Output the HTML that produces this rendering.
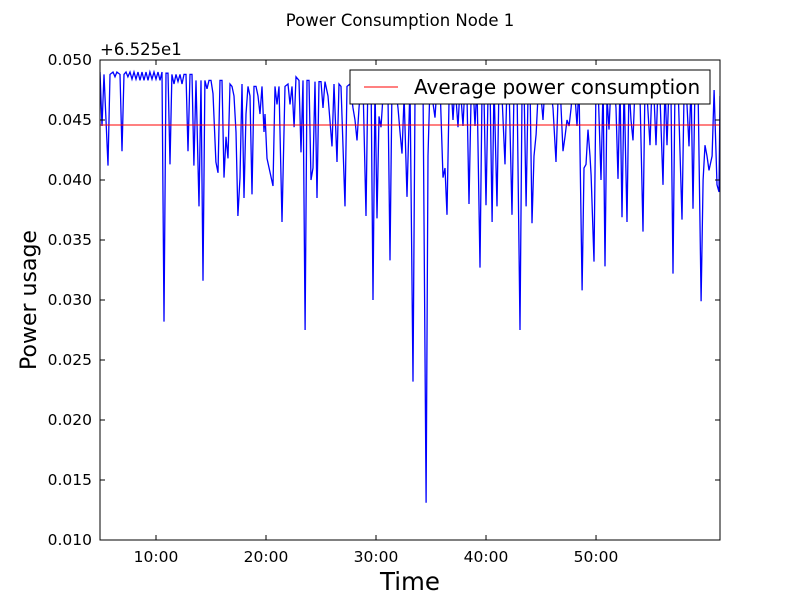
<!DOCTYPE html>
<html><head><meta charset="utf-8"><style>
body{margin:0;background:#fff;}
svg{display:block;font-family:"DejaVu Sans","Liberation Sans",sans-serif;}
</style></head><body>
<svg id="chart" width="800" height="600" xmlns="http://www.w3.org/2000/svg"></svg>
<script>
const times=[4.91,5.09,5.27,5.64,5.82,6.09,6.27,6.45,6.73,6.91,7.09,7.27,7.45,7.64,7.82,8.00,8.18,8.36,8.55,8.73,8.91,9.09,9.27,9.45,9.64,9.82,10.00,10.18,10.36,10.55,10.73,10.91,11.09,11.27,11.45,11.64,11.82,12.00,12.18,12.36,12.55,12.73,12.91,13.09,13.27,13.45,13.64,13.91,14.09,14.27,14.45,14.64,14.82,15.00,15.18,15.45,15.64,15.82,16.00,16.18,16.36,16.55,16.73,16.91,17.09,17.27,17.45,17.64,17.82,18.00,18.18,18.36,18.55,18.73,18.91,19.09,19.27,19.45,19.64,19.82,19.91,20.09,20.64,20.82,21.00,21.18,21.45,21.73,22.00,22.18,22.36,22.55,22.73,23.00,23.18,23.36,23.55,23.73,23.91,24.09,24.27,24.45,24.64,24.82,25.00,25.18,25.36,
25.64,26.00,26.18,26.45,26.64,26.82,27.18,27.36,27.64,27.91,28.09,28.27,28.45,28.64,28.82,29.09,29.27,29.55,29.73,29.91,30.09,30.27,30.45,30.64,30.82,31.09,31.27,31.45,31.73,32.00,32.18,32.36,32.55,32.82,33.09,33.36,33.55,33.82,34.09,34.27,34.55,34.73,34.91,35.09,35.36,35.55,35.82,36.09,36.27,36.45,36.64,36.82,37.00,37.18,37.45,37.64,37.91,38.09,38.27,38.45,38.64,38.82,39.00,39.18,39.45,39.64,39.82,40.00,40.18,40.36,40.55,40.73,41.00,41.18,41.45,41.73,41.91,42.09,42.36,42.55,42.82,43.09,43.27,43.45,43.64,43.82,44.00,44.18,44.36,44.55,44.73,44.91,45.18,45.36,45.64,45.82,46.09,46.36,46.55,46.73,47.00,47.18,47.36,47.55,47.73,47.91,48.09,48.27,48.45,48.73,48.91,49.09,49.27,49.45,49.55,49.82,50.00,50.18,50.45,50.64,50.82,51.00,51.18,51.36,51.64,51.82,52.00,52.18,52.36,52.55,52.82,53.00,53.18,53.36,53.55,53.73,54.00,54.27,54.45,54.64,54.91,55.09,55.27,55.45,55.64,55.82,56.09,56.27,56.45,56.64,56.82,57.00,57.18,57.45,57.82,58.00,58.18,58.45,58.64,58.82,59.00,59.27,59.55,59.73,59.91,60.09,60.27,60.55,60.73,61.00,61.18,61.27];
const power=[.0490,.0445,.0488,.0412,.0488,.0490,.0486,.0490,.0488,.0424,.0488,.0490,.0486,.0490,.0484,.0490,.0484,.0490,.0483,.0490,.0483,.0490,.0483,.0490,.0484,.0490,.0484,.0490,.0483,.0490,.0282,.0489,.0489,.0413,.0488,.0480,.0488,.0482,.0488,.0480,.0488,.0488,.0424,.0488,.0488,.0412,.0483,.0378,.0483,.0316,.0483,.0476,.0483,.0483,.0472,.0415,.0406,.0483,.0483,.0402,.0436,.0418,.0480,.0478,.0470,.0440,.0370,.0402,.0480,.0385,.0455,.0478,.0470,.0388,.0478,.0478,.0470,.0455,.0478,.0440,.0455,.0418,.0395,.0478,.0463,.0478,.0365,.0478,.0480,.0463,.0478,.0444,.0486,.0483,.0423,.0483,.0275,.0483,.0483,.0400,.0410,.0482,.0385,.0482,.0482,.0460,.0482,
.0470,.0428,.0480,.0415,.0480,.0478,.0378,.0478,.0480,.0460,.0450,.0433,.0460,.0480,.0480,.0370,.0490,.0480,.0300,.0480,.0368,.0453,.0444,.0470,.0480,.0470,.0333,.0480,.0482,.0460,.0440,.0422,.0470,.0386,.0480,.0232,.0480,.0470,.0480,.0480,.0131,.0420,.0480,.0470,.0452,.0480,.0480,.0402,.0410,.0371,.0470,.0480,.0450,.0480,.0444,.0480,.0445,.0480,.0470,.0380,.0470,.0480,.0445,.0480,.0327,.0480,.0470,.0379,.0470,.0480,.0365,.0480,.0378,.0480,.0470,.0413,.0480,.0480,.0371,.0480,.0480,.0275,.0470,.0480,.0378,.0470,.0480,.0364,.0420,.0438,.0470,.0480,.0450,.0480,.0470,.0480,.0460,.0415,.0470,.0480,.0424,.0436,.0450,.0445,.0460,.0480,.0470,.0445,.0480,.0308,.0410,.0413,.0442,.0420,.0404,.0332,.0480,.0480,.0400,.0480,.0328,.0470,.0442,.0480,.0480,.0460,.0401,.0480,.0369,.0480,.0365,.0480,.0450,.0433,.0480,.0480,.0470,.0357,.0480,.0470,.0429,.0480,.0470,.0429,.0480,.0470,.0396,.0480,.0429,.0480,.0470,.0322,.0480,.0480,.0367,.0470,.0480,.0428,.0480,.0376,.0480,.0480,.0299,.0400,.0429,.0420,.0408,.0420,.0475,.0396,.0390,.0470];
const averagePower=[0.04458];
const yTicks=[0.010,0.015,0.020,0.025,0.030,0.035,0.040,0.045,0.050];
const xTicks=[10,20,30,40,50];
const xTickLabels=["10:00","20:00","30:00","40:00","50:00"];

const L=100,R=720,T=60,B=540,X0=4.91,X1=61.27,Y0=0.010,Y1=0.050;
const sx=t=>L+(t-X0)/(X1-X0)*(R-L);
const sy=v=>B-(v-Y0)/(Y1-Y0)*(B-T);
const svg=document.getElementById('chart');
const NS='http://www.w3.org/2000/svg';
function mk(tag,attrs,parent){const e=document.createElementNS(NS,tag);for(const k in attrs)e.setAttribute(k,attrs[k]);(parent||svg).appendChild(e);return e;}

const defs=mk('defs',{});const cp=mk('clipPath',{id:'clip'},defs);mk('rect',{x:L,y:T,width:R-L,height:B-T},cp);

let d='';times.forEach((t,i)=>{d+=(i?'L':'M')+sx(t).toFixed(1)+','+sy(power[i]).toFixed(1);});
const line=mk('path',{d:d,fill:'none',stroke:'#0000ff','stroke-width':1.3,'clip-path':'url(#clip)'});



const avg=mk('line',{x1:L,x2:R,y1:sy(averagePower[0]),y2:sy(averagePower[0]),stroke:'#ff0000','stroke-width':1});



const frame=mk('rect',{x:L,y:T,width:R-L,height:B-T,fill:'none',stroke:'#000','stroke-width':1});



yTicks.forEach(v=>{
  const y=sy(v);
  mk('line',{x1:L,x2:L+5,y1:y,y2:y,stroke:'#000'});
  mk('line',{x1:R,x2:R-5,y1:y,y2:y,stroke:'#000'});
  const tx=mk('text',{x:L-8,y:y+5,'text-anchor':'end','font-size':15.5});
  tx.textContent=v.toFixed(3);
  
  
});
xTicks.forEach((t,i)=>{
  const x=sx(t);
  mk('line',{x1:x,x2:x,y1:B,y2:B-5,stroke:'#000'});
  mk('line',{x1:x,x2:x,y1:T,y2:T+5,stroke:'#000'});
  const tx=mk('text',{x:x,y:B+22,'text-anchor':'middle','font-size':15.5});
  tx.textContent=xTickLabels[i];
  
  
});

function txt(s,attrs,name){const e=mk('text',attrs);e.textContent=s;return e;}
txt('+6.525e1',{x:100,y:55,'font-size':16.5},'y-offset-label');
txt('Power Consumption Node 1',{x:400,y:26,'text-anchor':'middle','font-size':16.5},'chart-title');
txt('Time',{x:410,y:590,'text-anchor':'middle','font-size':24.5},'x-axis-title');
txt('Power usage',{x:36,y:300,'text-anchor':'middle','font-size':22,transform:'rotate(-90 36 300)'},'y-axis-title');

const lg=mk('g',{});


mk('rect',{x:350,y:70,width:360,height:34,fill:'#fff',stroke:'#000','stroke-width':1},lg);
mk('line',{x1:364,x2:398,y1:87,y2:87,stroke:'#ff0000','stroke-width':1},lg);
const lt=mk('text',{x:414,y:94,'font-size':20},lg);
lt.textContent='Average power consumption';


</script>
</body></html>
